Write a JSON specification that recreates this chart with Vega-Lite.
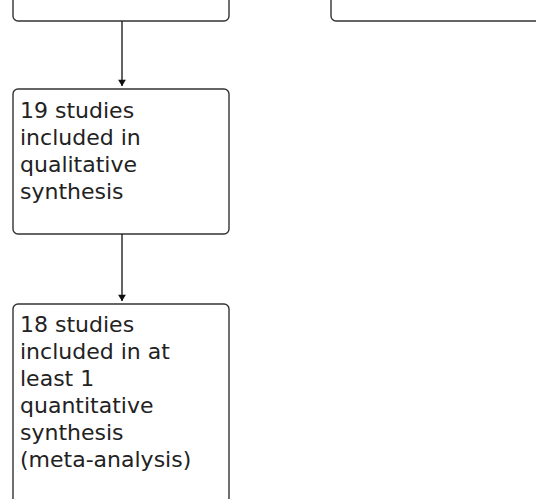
{
  "$schema": "https://vega.github.io/schema/vega-lite/v6.json",
  "width": 536,
  "height": 499,
  "padding": 0,
  "autosize": {"type": "none"},
  "background": "white",
  "config": {"view": {"stroke": null}},
  "datasets": {
    "boxes": [
      {"x1": 13, "x2": 229, "y1": -60, "y2": 21},
      {"x1": 331, "x2": 700, "y1": -60, "y2": 21},
      {"x1": 13, "x2": 229, "y1": 89, "y2": 234},
      {"x1": 13, "x2": 229, "y1": 304, "y2": 600}
    ],
    "arrows": [
      {"x": 122, "y1": 21, "y2": 86, "head": 83},
      {"x": 122, "y1": 234, "y2": 301, "head": 298}
    ],
    "labels": [
      {"x": 20, "y": 118, "label": "19 studies|included in|qualitative|synthesis"},
      {"x": 20, "y": 332, "label": "18 studies|included in at|least 1|quantitative|synthesis|(meta-analysis)"}
    ]
  },
  "layer": [
    {
      "data": {"name": "boxes"},
      "mark": {"type": "rect", "fill": "white", "stroke": "#333333", "strokeWidth": 1.4, "cornerRadius": 5, "clip": true},
      "encoding": {
        "x": {"field": "x1", "type": "quantitative", "scale": {"domain": [0, 536], "nice": false, "zero": false}, "axis": null},
        "x2": {"field": "x2"},
        "y": {"field": "y1", "type": "quantitative", "scale": {"domain": [0, 499], "nice": false, "zero": false, "reverse": true}, "axis": null},
        "y2": {"field": "y2"}
      }
    },
    {
      "data": {"name": "arrows"},
      "mark": {"type": "rule", "stroke": "#222222", "strokeWidth": 1.4},
      "encoding": {
        "x": {"field": "x", "type": "quantitative"},
        "y": {"field": "y1", "type": "quantitative"},
        "y2": {"field": "y2"}
      }
    },
    {
      "data": {"name": "arrows"},
      "mark": {"type": "point", "shape": "triangle-down", "filled": true, "color": "#111111", "size": 60, "opacity": 1},
      "encoding": {
        "x": {"field": "x", "type": "quantitative"},
        "y": {"field": "head", "type": "quantitative"}
      }
    },
    {
      "data": {"name": "labels"},
      "mark": {"type": "text", "align": "left", "baseline": "alphabetic", "lineBreak": "|", "lineHeight": 27, "font": "DejaVu Sans", "fontSize": 22, "color": "#222222"},
      "encoding": {
        "x": {"field": "x", "type": "quantitative"},
        "y": {"field": "y", "type": "quantitative"},
        "text": {"field": "label"}
      }
    }
  ]
}
